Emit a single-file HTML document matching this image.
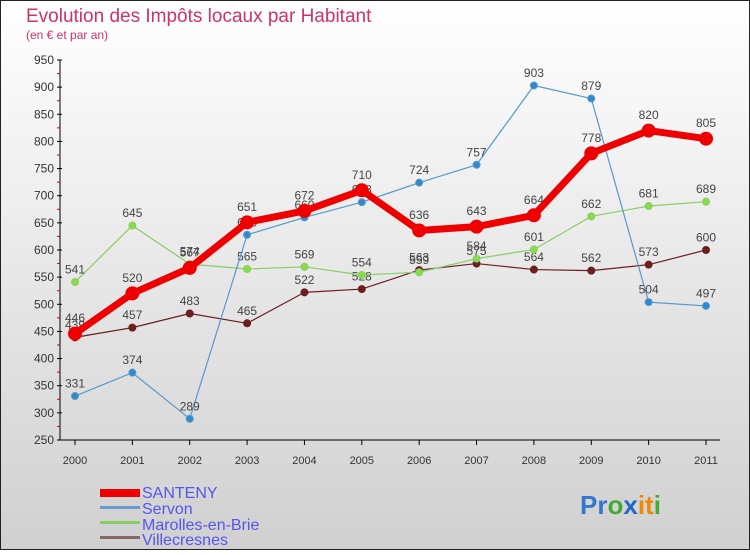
<!DOCTYPE html>
<html><head><meta charset="utf-8"><style>
html,body{margin:0;padding:0;}
body{width:750px;height:550px;overflow:hidden;font-family:"Liberation Sans",sans-serif;}
</style></head><body>
<svg id="chart" width="750" height="550" xmlns="http://www.w3.org/2000/svg" font-family="Liberation Sans, sans-serif">
<defs><linearGradient id="bg" x1="0" y1="0" x2="0" y2="1"><stop offset="0" stop-color="#ffffff"/><stop offset="1" stop-color="#d0d0d0"/></linearGradient></defs>
<rect x="0.5" y="0.5" width="749" height="549" fill="url(#bg)" stroke="#222" stroke-width="1"/>
<text x="26" y="22" font-size="19" fill="#cc3366">Evolution des Impôts locaux par Habitant</text>
<text x="26" y="39" font-size="12" fill="#cc3366">(en € et par an)</text>
<g id="axes"></g><g id="series"></g>
<g>
<rect x="100" y="489" width="40" height="8" fill="#ee0000"/>
<text x="142" y="498" font-size="16" fill="#5555ee">SANTENY</text>
<rect x="100" y="506" width="40" height="3" fill="#6699cc"/>
<text x="142" y="514" font-size="16" fill="#5555ee">Servon</text>
<rect x="100" y="521" width="40" height="3" fill="#88cc66"/>
<text x="142" y="530" font-size="16" fill="#5555ee">Marolles-en-Brie</text>
<rect x="100" y="536" width="40" height="3" fill="#886666"/>
<text x="142" y="545" font-size="16" fill="#5555ee">Villecresnes</text>
</g>
<g font-size="26" font-weight="bold">
<text x="580" y="514"><tspan fill="#3377cc">Pr</tspan><tspan fill="#44aa33">o</tspan><tspan fill="#2266cc">x</tspan><tspan fill="#ee8800">it</tspan><tspan fill="#44aa33">i</tspan></text>
</g>
</svg>
<script>
const years = [2000,2001,2002,2003,2004,2005,2006,2007,2008,2009,2010,2011];
const yTicks = [250,300,350,400,450,500,550,600,650,700,750,800,850,900,950];
const santeny = [446,520,567,651,672,710,636,643,664,778,820,805];
const servon = [331,374,289,628,660,688,724,757,903,879,504,497];
const marolles = [541,645,574,565,569,554,559,584,601,662,681,689];
const villecresnes = [439,457,483,465,522,528,563,575,564,562,573,600];

const NS="http://www.w3.org/2000/svg";
const x0=75,x1=706,yMin=250,yMax=950,pyMin=440,pyMax=60;
function xs(i){return x0+(x1-x0)*i/(years.length-1);}
function ys(v){return pyMin-(v-yMin)*(pyMin-pyMax)/(yMax-yMin);}
function mk(tag,attrs,parent){const e=document.createElementNS(NS,tag);for(const k in attrs)e.setAttribute(k,attrs[k]);parent.appendChild(e);return e;}
const axes=document.getElementById('axes');
const yAxis=mk('line',{x1:60,y1:pyMax,x2:60,y2:pyMin,stroke:'#000'},axes);


const xAxis=mk('line',{x1:60,y1:pyMin,x2:720,y2:pyMin,stroke:'#000'},axes);


yTicks.forEach((v,i)=>{
  const y=ys(v);
  mk('line',{x1:57,y1:y,x2:62,y2:y,stroke:'#000'},axes);
  if(i<yTicks.length-1) mk('line',{x1:57,y1:ys(v+25),x2:60,y2:ys(v+25),stroke:'#dd0000'},axes);
  const t=mk('text',{x:54,y:y+4,'font-size':12,'text-anchor':'end',fill:'#333'},axes);
  
  
  t.textContent=v;
});
years.forEach((yr,i)=>{
  const x=xs(i);
  mk('line',{x1:x,y1:pyMin,x2:x,y2:pyMin+5,stroke:'#000'},axes);
  const t=mk('text',{x:x,y:pyMin+24,'font-size':11,'text-anchor':'middle',fill:'#333'},axes);
  
  
  t.textContent=yr;
});
const sg=document.getElementById('series');
function draw(name,data,color,w,r,dot){
  const g=mk('g',{},sg);
  
  
  const pts=data.map((v,i)=>xs(i)+','+ys(v)).join(' ');
  const pl=mk('polyline',{points:pts,fill:'none',stroke:color,'stroke-width':w,'stroke-linejoin':'round'},g);
  
  
  data.forEach((v,i)=>{
    const c=mk('circle',{cx:xs(i),cy:ys(v),r:r,fill:dot,stroke:color,'stroke-width':1},g);
    
    
    const t=mk('text',{x:xs(i),y:ys(v)-r-5,'font-size':12,'text-anchor':'middle',fill:'#444'},g);
    
    
    t.textContent=v;
  });
}
draw('villecresnes',villecresnes,'#6b1f1f',1.2,3.5,'#6b1f1f');
draw('marolles',marolles,'#88cc66',1.2,3.5,'#88dd44');
draw('servon',servon,'#5599cc',1.2,3.5,'#3388cc');
draw('santeny',santeny,'#ee0000',7,6.5,'#ee0000');
</script>
</body></html>
